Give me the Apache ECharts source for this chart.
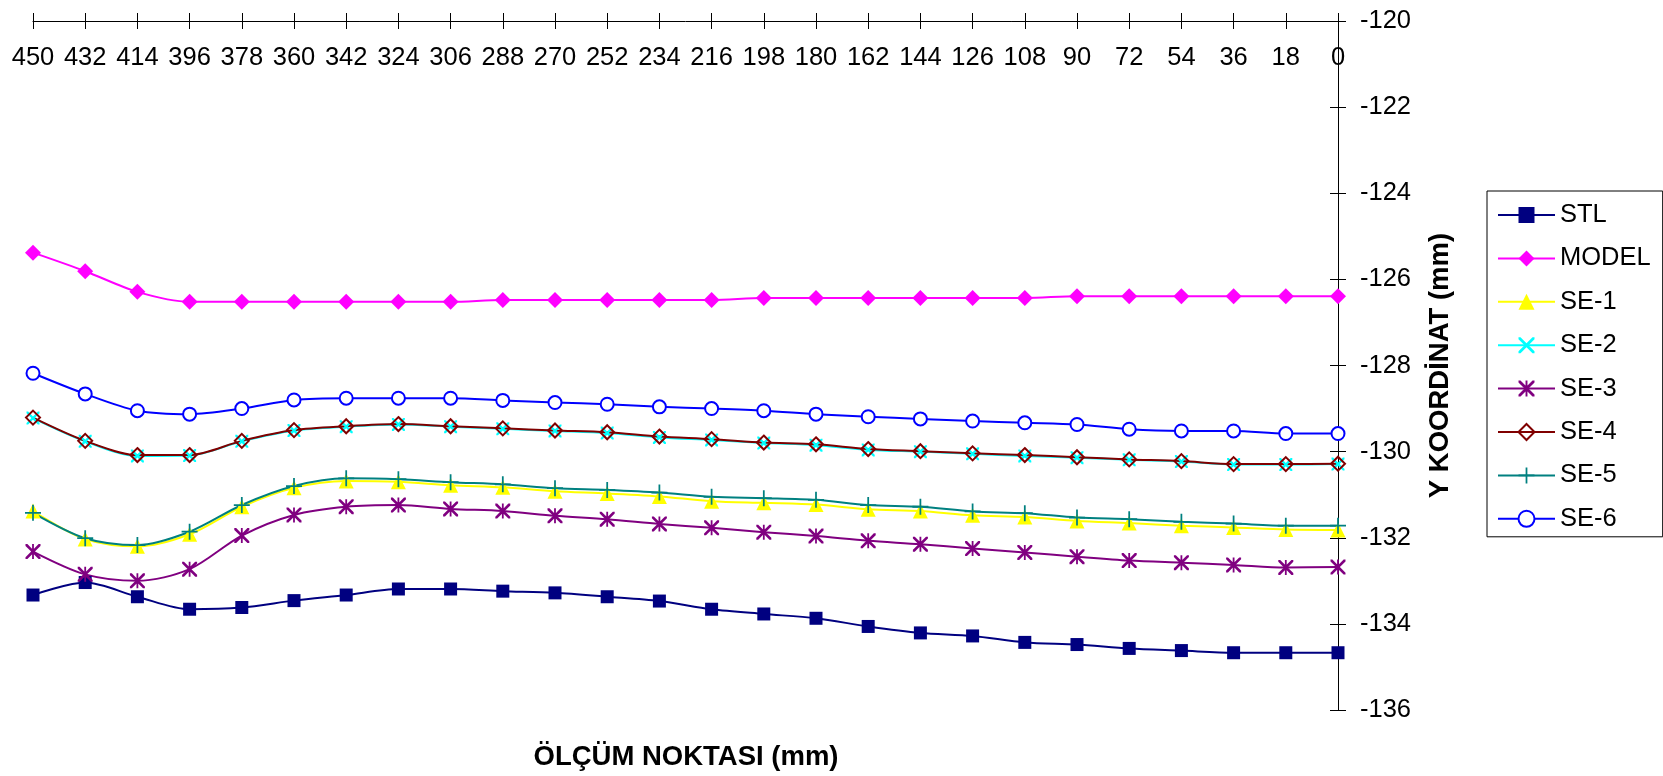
<!DOCTYPE html>
<html>
<head>
<meta charset="utf-8">
<title>Y KOORDİNAT</title>
<script src="https://cdn.jsdelivr.net/npm/echarts@6/dist/echarts.min.js"></script>
<style>
  html, body { margin: 0; padding: 0; background: #fff; }
  #chart { width: 1663px; height: 776px; }
</style>
</head>
<body>
<div id="chart"></div>
<script>
// Measurement positions along the part (mm)
const xLabels = ['450','432','414','396','378','360','342','324','306','288','270','252','234',
                 '216','198','180','162','144','126','108','90','72','54','36','18','0'];

// Y coordinate (mm) for each profile
const stl   = [-133.33, -133.04, -133.37, -133.66, -133.62, -133.46, -133.33, -133.19, -133.19, -133.24, -133.28, -133.37, -133.47,
               -133.66, -133.77, -133.87, -134.06, -134.21, -134.28, -134.43, -134.48, -134.57, -134.62, -134.67, -134.67, -134.67];
const model = [-125.38, -125.81, -126.29, -126.52, -126.52, -126.52, -126.52, -126.52, -126.52, -126.48, -126.48, -126.48, -126.48,
               -126.48, -126.43, -126.43, -126.43, -126.43, -126.43, -126.43, -126.39, -126.39, -126.39, -126.39, -126.39, -126.39];
const se1   = [-131.38, -132.03, -132.20, -131.92, -131.28, -130.84, -130.68, -130.70, -130.78, -130.83, -130.92, -130.97, -131.04,
               -131.15, -131.19, -131.23, -131.34, -131.38, -131.48, -131.52, -131.61, -131.66, -131.72, -131.76, -131.81, -131.82];
const se2   = [-129.22, -129.76, -130.10, -130.09, -129.76, -129.51, -129.42, -129.37, -129.42, -129.47, -129.52, -129.57, -129.67,
               -129.73, -129.80, -129.85, -129.96, -130.00, -130.05, -130.10, -130.14, -130.19, -130.23, -130.30, -130.30, -130.29];
const se3   = [-132.32, -132.85, -133.00, -132.73, -131.95, -131.47, -131.28, -131.24, -131.33, -131.38, -131.49, -131.57, -131.68,
               -131.77, -131.87, -131.96, -132.07, -132.15, -132.25, -132.34, -132.44, -132.53, -132.58, -132.63, -132.69, -132.68];
const se4   = [-129.21, -129.75, -130.08, -130.08, -129.75, -129.50, -129.41, -129.36, -129.41, -129.46, -129.51, -129.55, -129.65,
               -129.71, -129.79, -129.83, -129.94, -129.99, -130.04, -130.08, -130.13, -130.18, -130.22, -130.29, -130.29, -130.28];
const se5   = [-131.42, -132.01, -132.17, -131.86, -131.24, -130.80, -130.62, -130.64, -130.71, -130.76, -130.85, -130.89, -130.95,
               -131.05, -131.08, -131.12, -131.24, -131.28, -131.39, -131.43, -131.53, -131.57, -131.63, -131.67, -131.72, -131.72];
const se6   = [-128.18, -128.66, -129.05, -129.13, -129.00, -128.80, -128.76, -128.76, -128.76, -128.81, -128.86, -128.90, -128.96,
               -129.00, -129.05, -129.13, -129.19, -129.24, -129.29, -129.33, -129.37, -129.48, -129.52, -129.52, -129.58, -129.58];

// Marker shapes that ECharts does not ship
const crossPath = 'path://M0,0L2.5,0L10,7.5L17.5,0L20,0L20,2.5L12.5,10L20,17.5L20,20L17.5,20L10,12.5L2.5,20L0,20L0,17.5L7.5,10L0,2.5Z';
const starPath  = crossPath + 'M8.8,0L11.2,0L11.2,20L8.8,20Z';
const plusPath  = 'path://M8.9,0L11.1,0L11.1,8.9L20,8.9L20,11.1L11.1,11.1L11.1,20L8.9,20L8.9,11.1L0,11.1L0,8.9L8.9,8.9Z';

const FONT = '"Liberation Sans", Arial, sans-serif';

function line(name, data, color, symbol, size, itemStyle) {
  return {
    name: name,
    type: 'line',
    data: data,
    xAxisIndex: 0,
    yAxisIndex: 0,
    smooth: 0.3,
    symbol: symbol,
    symbolSize: size,
    showAllSymbol: true,
    lineStyle: { color: color, width: 2 },
    itemStyle: Object.assign({ color: color, borderWidth: 0 }, itemStyle || {}),
    emphasis: { disabled: true }
  };
}

const chart = echarts.init(document.getElementById('chart'), null, { renderer: 'canvas' });

const axisLineStyle = { color: '#000', width: 1 };

chart.setOption({
  animation: false,
  backgroundColor: '#fff',
  textStyle: { fontFamily: FONT, color: '#000' },
  title: {
    text: 'ÖLÇÜM NOKTASI (mm)',
    left: 686,
    top: 743,
    padding: 0,
    textAlign: 'center',
    textStyle: { fontFamily: FONT, fontSize: 27.5, fontWeight: 'bold', color: '#000' }
  },
  grid: {
    left: 33, right: 325, top: 21, bottom: 66,
    containLabel: false,
    outerBoundsMode: 'none'
  },
  legend: {
    orient: 'vertical',
    left: 1487,
    top: 191,
    padding: [11, 12, 5, 10],
    itemGap: 17.4,
    itemWidth: 57,
    itemHeight: 20,
    borderColor: '#000',
    borderWidth: 1,
    borderRadius: 0,
    backgroundColor: '#fff',
    textStyle: { fontFamily: FONT, fontSize: 25.5, color: '#000', lineHeight: 26 },
    selectedMode: false,
    data: ['STL', 'MODEL', 'SE-1', 'SE-2', 'SE-3', 'SE-4', 'SE-5', 'SE-6']
  },
  xAxis: [
    {
      type: 'category',
      position: 'top',
      data: xLabels,
      boundaryGap: false,
      axisLine: { show: true, lineStyle: axisLineStyle },
      axisTick: { show: true, length: 8, lineStyle: axisLineStyle },
      axisLabel: {
        inside: true, interval: 0, margin: 24,
        fontFamily: FONT, fontSize: 25.5, color: '#000'
      },
      splitLine: { show: false }
    },
    {
      // inward half of the crossing tick marks
      type: 'category',
      position: 'top',
      data: xLabels,
      boundaryGap: false,
      axisLine: { show: false },
      axisTick: { show: true, inside: true, length: 8, lineStyle: axisLineStyle },
      axisLabel: { show: false },
      splitLine: { show: false }
    }
  ],
  yAxis: [
    {
      type: 'value',
      position: 'right',
      min: -136, max: -120, interval: 2,
      name: 'Y KOORDİNAT (mm)',
      nameLocation: 'middle',
      nameRotate: 90,
      nameGap: 88,
      nameTextStyle: { fontFamily: FONT, fontSize: 27.5, fontWeight: 'bold', color: '#000' },
      axisLine: { show: true, lineStyle: axisLineStyle },
      axisTick: { show: true, length: 8, lineStyle: axisLineStyle },
      axisLabel: { margin: 22, fontFamily: FONT, fontSize: 25.5, color: '#000' },
      splitLine: { show: false }
    },
    {
      type: 'value',
      position: 'right',
      min: -136, max: -120, interval: 2,
      axisLine: { show: false },
      axisTick: { show: true, inside: true, length: 8, lineStyle: axisLineStyle },
      axisLabel: { show: false },
      splitLine: { show: false }
    }
  ],
  series: [
    line('STL',   stl,   '#000080', 'rect', 13),
    line('MODEL', model, '#FF00FF', 'diamond', 16),
    line('SE-1',  se1,   '#FFFF00', 'triangle', 15),
    line('SE-2',  se2,   '#00FFFF', crossPath, 13),
    line('SE-3',  se3,   '#800080', starPath, 15),
    line('SE-4',  se4,   '#800000', 'diamond', 14,
         { color: 'rgba(255,255,255,0)', borderColor: '#800000', borderWidth: 2 }),
    line('SE-5',  se5,   '#008080', plusPath, 16),
    line('SE-6',  se6,   '#0000FF', 'emptyCircle', 13,
         { color: '#0000FF', borderColor: '#0000FF', borderWidth: 1.6 })
  ]
});
</script>
</body>
</html>
